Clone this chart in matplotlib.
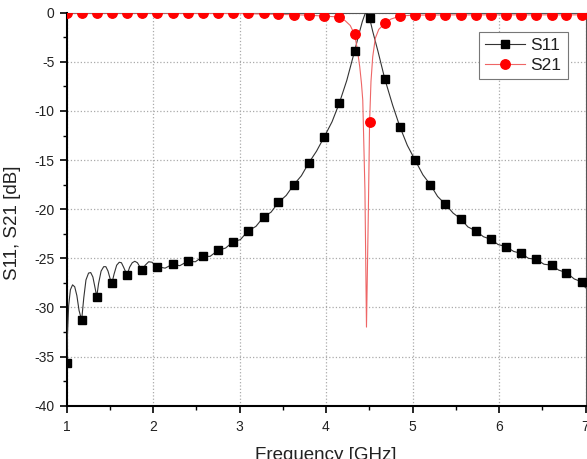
import matplotlib
matplotlib.use("Agg")
import matplotlib.pyplot as plt

plt.rcParams['font.family'] = ['Liberation Sans', 'DejaVu Sans']
plt.rcParams['axes.unicode_minus'] = False

# marker positions (GHz)
marker_freq = [1.00, 1.175, 1.35, 1.526, 1.70, 1.876, 2.05, 2.226, 2.40, 2.577,
               2.75, 2.927, 3.10, 3.278, 3.45, 3.628, 3.80, 3.979, 4.154, 4.33,
               4.504, 4.68, 4.855, 5.03, 5.206, 5.38, 5.557, 5.73, 5.907, 6.08,
               6.258, 6.43, 6.608, 6.78, 6.957]
s11_markers = [-35.7, -31.3, -28.9, -27.5, -26.7, -26.2, -25.85, -25.6, -25.3, -24.8,
               -24.2, -23.3, -22.2, -20.8, -19.3, -17.5, -15.3, -12.65, -9.2, -3.93,
               -0.54, -6.75, -11.63, -15.0, -17.5, -19.5, -20.97, -22.2, -23.07, -23.8,
               -24.5, -25.1, -25.7, -26.46, -27.4]
s21_markers = [-0.03, -0.03, -0.03, -0.03, -0.03, -0.03, -0.03, -0.03, -0.03, -0.03,
               -0.08, -0.08, -0.08, -0.08, -0.15, -0.22, -0.25, -0.35, -0.45, -2.2,
               -11.1, -1.08, -0.35, -0.22, -0.22, -0.22, -0.22, -0.22, -0.22, -0.22,
               -0.22, -0.22, -0.22, -0.22, -0.22]

# continuous traces
s11_line_f = [1.000, 1.010, 1.025, 1.045, 1.070, 1.095, 1.120, 1.145, 1.175,
              1.200, 1.225, 1.255, 1.280, 1.305, 1.330, 1.350,
              1.370, 1.400, 1.430, 1.455, 1.480, 1.505, 1.526,
              1.550, 1.580, 1.610, 1.635, 1.660, 1.700,
              1.730, 1.760, 1.790, 1.820, 1.850, 1.876,
              1.910, 1.950, 1.990, 2.020, 2.050,
              2.140, 2.226, 2.310, 2.400, 2.490, 2.577, 2.660, 2.750, 2.840, 2.927,
              3.010, 3.100, 3.190, 3.278, 3.365, 3.450, 3.540, 3.628, 3.715, 3.800,
              3.890, 3.979, 4.070, 4.154, 4.240, 4.330, 4.380, 4.420, 4.450, 4.470,
              4.504, 4.540, 4.600, 4.680, 4.770, 4.855, 4.940, 5.030, 5.120, 5.206,
              5.290, 5.380, 5.470, 5.557, 5.640, 5.730, 5.820, 5.907, 5.990, 6.080,
              6.170, 6.258, 6.340, 6.430, 6.520, 6.608, 6.690, 6.780, 6.870, 6.957,
              7.000]
s11_line_db = [-36.5, -33.0, -29.8, -28.2, -27.7, -27.9, -28.8, -30.3, -31.3,
               -29.0, -27.2, -26.5, -26.45, -26.9, -28.0, -28.9,
               -27.6, -26.3, -25.85, -25.85, -26.3, -27.1, -27.5,
               -26.6, -25.7, -25.4, -25.45, -25.9, -26.7,
               -25.9, -25.45, -25.3, -25.45, -25.9, -26.2,
               -25.7, -25.35, -25.4, -25.7, -25.85,
               -26.0, -25.6, -25.75, -25.3, -25.35, -24.8, -24.8, -24.2, -23.95, -23.3,
               -23.1, -22.2, -21.75, -20.8, -20.3, -19.3, -18.6, -17.5, -16.6, -15.3,
               -14.1, -12.65, -11.1, -9.2, -6.9, -3.93, -2.2, -0.9, -0.15, 0.0,
               -0.54, -1.9, -3.9, -6.75, -9.4, -11.63, -13.5, -15.0, -16.5, -17.5,
               -18.7, -19.5, -20.4, -20.97, -21.8, -22.2, -22.8, -23.07, -23.6, -23.8,
               -24.3, -24.5, -25.0, -25.1, -25.6, -25.7, -26.2, -26.46, -27.1, -27.4,
               -28.0]

s21_line_f = [1.0, 2.0, 3.0, 3.5, 3.8, 3.98, 4.08, 4.154, 4.22, 4.28, 4.33, 4.36,
              4.39, 4.41, 4.425, 4.45, 4.468, 4.49, 4.504, 4.52, 4.54, 4.57, 4.61,
              4.68, 4.75, 4.855, 5.0, 5.5, 6.0, 7.0]
s21_line_db = [-0.03, -0.03, -0.08, -0.18, -0.25, -0.35, -0.4, -0.45, -0.8, -1.3, -2.2, -3.6,
               -5.5, -7.2, -8.9, -18.0, -32.0, -20.0, -11.1, -7.0, -4.5, -2.6, -1.7,
               -1.08, -0.65, -0.35, -0.25, -0.22, -0.22, -0.22]

x_ticks = [1, 2, 3, 4, 5, 6, 7]
y_ticks = [-40, -35, -30, -25, -20, -15, -10, -5, 0]

TXT = '#222222'

fig = plt.figure(figsize=(5.87, 4.59), dpi=100)
ax = fig.add_axes([66.5 / 587, 1 - 405.7 / 459, 519 / 587, 393 / 459])

ax.plot(s11_line_f, s11_line_db, color='#333333', lw=0.8, zorder=3)
ax.plot(s21_line_f, s21_line_db, color='#ee6666', lw=0.8, zorder=3)
ax.plot(marker_freq, s11_markers, ls='none', marker='s', ms=6.3, color='black', zorder=4)
ax.plot(marker_freq, s21_markers, ls='none', marker='o', ms=6.8, color='#ff0000', zorder=4)

# legend proxies
h1, = ax.plot([], [], color='#333333', lw=0.8, marker='s', ms=6.3, mfc='black', mec='black')
h2, = ax.plot([], [], color='#ee6666', lw=0.8, marker='o', ms=6.8, mfc='#ff0000', mec='#ff0000')
leg = ax.legend([h1, h2], ['S11', 'S21'], loc='upper right',
                bbox_to_anchor=(0.9657, 0.9517), borderaxespad=0, fontsize=12.5,
                handlelength=2.3, labelspacing=0.3, borderpad=0.35, handletextpad=0.3,
                fancybox=False, framealpha=1, edgecolor='#777777')
leg.get_frame().set_linewidth(0.8)
for t in leg.get_texts():
    t.set_color(TXT)

ax.set_xlim(1, 7)
ax.set_ylim(-40, 0)
ax.set_xticks(x_ticks)
ax.set_yticks(y_ticks)
ax.set_xticks([1.5, 2.5, 3.5, 4.5, 5.5, 6.5], minor=True)
ax.set_yticks([-37.5, -32.5, -27.5, -22.5, -17.5, -12.5, -7.5, -2.5], minor=True)
ax.tick_params(axis='both', which='major', direction='out', length=5, width=1.2,
               labelsize=10, colors='black', labelcolor=TXT)
ax.tick_params(axis='x', which='major', pad=5)
ax.tick_params(axis='both', which='minor', direction='out', length=3, width=1.0)
ax.tick_params(top=False, right=False, which='both')

ax.grid(True, which='major', ls=':', color='#aaaaaa', lw=0.9)
ax.set_axisbelow(True)

for s in ['left', 'bottom']:
    ax.spines[s].set_linewidth(1.5)
    ax.spines[s].set_color('black')
for s in ['top', 'right']:
    ax.spines[s].set_linewidth(0.8)
    ax.spines[s].set_color('#555555')

ax.set_xlabel('Frequency [GHz]', fontsize=13.5, va='top', color=TXT)
ax.xaxis.set_label_coords(0.5, -0.105)
ax.set_ylabel('S11, S21 [dB]', fontsize=13.5, color=TXT)
ax.yaxis.set_label_coords(-0.0886, 0.466)

fig.savefig('out.png', dpi=100)
